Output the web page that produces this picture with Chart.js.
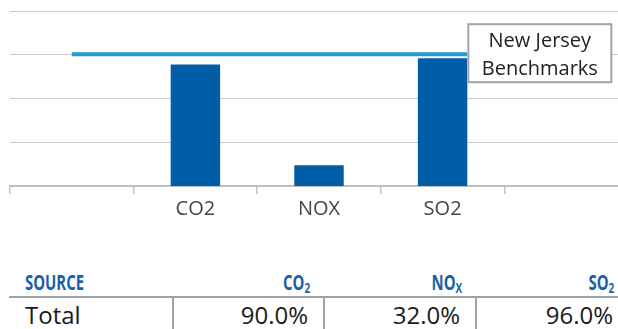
<!DOCTYPE html>
<html>
<head>
<meta charset="utf-8">
<script src="https://cdn.jsdelivr.net/npm/chart.js@4.4.1/dist/chart.umd.min.js"></script>
<style>
  html, body { margin: 0; padding: 0; background: #fff; overflow: hidden; width: 618px; height: 329px; }
  #wrap { position: absolute; left: 0; top: 0; width: 628px; height: 240px; }
  #summary {
    position: absolute; left: 9px; top: 264px; width: 619px;
    border-collapse: collapse; table-layout: fixed;
    font-family: "Open Sans", sans-serif; color: #1a1a1a;
  }
  #summary th {
    font-family: "Open Sans", sans-serif;
    font-weight: bold; font-size: 21px; color: #1b5faa;
    height: 28px; padding: 0 14px 4px 16px; vertical-align: bottom;
    border-bottom: 2px solid #9ea3a8; text-align: right; line-height: 20px;
  }
  #summary th span { display: inline-block; transform: scaleX(0.71); transform-origin: right bottom; }
  #summary th:first-child { text-align: left; }
  #summary th:first-child span { transform-origin: left bottom; }
  #summary th sub { font-size: 14px; vertical-align: -3px; line-height: 0; }
  #summary td {
    font-size: 24px; height: 34px; padding: 0 15px 0 16px;
    text-align: right; border-left: 2px solid #9ea3a8; line-height: 30px;
  }
  #summary td:first-child { text-align: left; border-left: none; }
</style>
</head>
<body>
<div id="wrap"><canvas id="emissionsChart"></canvas></div>
<table id="summary">
  <colgroup><col style="width:164px"><col style="width:151px"><col style="width:152px"><col style="width:152px"></colgroup>
  <thead><tr id="headRow"></tr></thead>
  <tbody><tr id="totalRow"></tr></tbody>
</table>

<script>
// pollutant categories (blank slots pad each end of the axis)
const categories = ['', 'CO2', 'NOX', 'SO2', ''];
const emissionShare = [null, 90.0, 32.0, 96.0, null];   // % of benchmark
const benchmark = [100, 100, 100, 100, 100];
const benchmarkLabel = ['New Jersey', 'Benchmarks'];

const tableHeads = ['SOURCE', 'CO<sub>2</sub>', 'NO<sub>X</sub>', 'SO<sub>2</sub>'];
const tableRowName = 'Total';


function build_table() {
    const head = document.getElementById('headRow');
    head.innerHTML = tableHeads.map(h => `<th><span>${h}</span></th>`).join('');

    const values = emissionShare.filter(v => v !== null);
    const row = document.getElementById('totalRow');
    row.innerHTML = `<td>${tableRowName}</td>` + values.map(v => `<td>${v.toFixed(1)}%</td>`).join('');
}

// boxed caption sitting on the benchmark line, right of the last bar
const benchmarkBox = {
    id: 'benchmarkBox',
    afterDatasetsDraw(chart, args, opts) {
        const ctx = chart.ctx;
        const bar = chart.getDatasetMeta(0).data[3];
        const y = chart.scales.y.getPixelForValue(benchmark[0]);
        const left = bar.x + bar.width / 2;
        const w = opts.width, h = opts.height;
        const top = y - h / 2 - 1;

        ctx.save();
        ctx.fillStyle = '#fff';
        ctx.fillRect(left, top, w, h);
        ctx.strokeStyle = opts.borderColor;
        ctx.lineWidth = 2;
        ctx.strokeRect(left + 1, top + 1, w - 2, h - 2);

        ctx.fillStyle = opts.color;
        ctx.font = opts.font;
        ctx.textAlign = 'center';
        ctx.textBaseline = 'middle';
        benchmarkLabel.forEach((line, i) => {
            ctx.fillText(line, left + w / 2, top + 18 + i * 28);
        });
        ctx.restore();
    }
};

function create_chart() {
    const ctx = document.getElementById('emissionsChart').getContext('2d');
    return new Chart(ctx, {
        type: 'bar',
        data: {
            labels: categories,
            datasets: [
                {
                    label: 'Emissions',
                    data: emissionShare,
                    backgroundColor: '#005da8',
                    categoryPercentage: 1,
                    barPercentage: 0.4,
                    yAxisID: 'y',
                    order: 1
                },
                {
                    type: 'line',
                    label: benchmarkLabel.join(' '),
                    data: benchmark,
                    borderColor: '#1f9bd8',
                    borderWidth: 4,
                    pointRadius: 0,
                    yAxisID: 'y',
                    order: 0
                }
            ]
        },
        options: {
            responsive: true,
            maintainAspectRatio: false,
            animation: false,
            layout: { padding: { left: 10, top: 11, right: 0, bottom: 16 } },
            scales: {
                x: {
                    offset: true,
                    grid: {
                        offset: true,
                        drawOnChartArea: false,
                        drawTicks: true,
                        tickLength: 8,
                        color: '#c4c4c4',
                        lineWidth: 1.5
                    },
                    border: { display: true, color: '#bdbdbd', width: 2 },
                    ticks: {
                        color: '#454545',
                        padding: 3,
                        font: { family: 'Open Sans', size: 20 }
                    }
                },
                y: {
                    type: 'logarithmic',
                    display: false,
                    min: 25.9,
                    max: 155.7
                },
                g: {
                    type: 'linear',
                    position: 'left',
                    min: 0,
                    max: 4,
                    ticks: { display: false, stepSize: 1 },
                    grid: { color: '#c9c9c9', lineWidth: 1, drawTicks: false },
                    border: { display: false }
                }
            },
            plugins: {
                legend: { display: false },
                tooltip: { enabled: false },
                benchmarkBox: {
                    width: 145,
                    height: 60,
                    borderColor: '#a3a3a3',
                    color: '#222',
                    font: '20px "Open Sans"'
                }
            }
        },
        plugins: [benchmarkBox]
    });
}

build_table();
const emissionsChart = create_chart();
</script>
</body>
</html>
